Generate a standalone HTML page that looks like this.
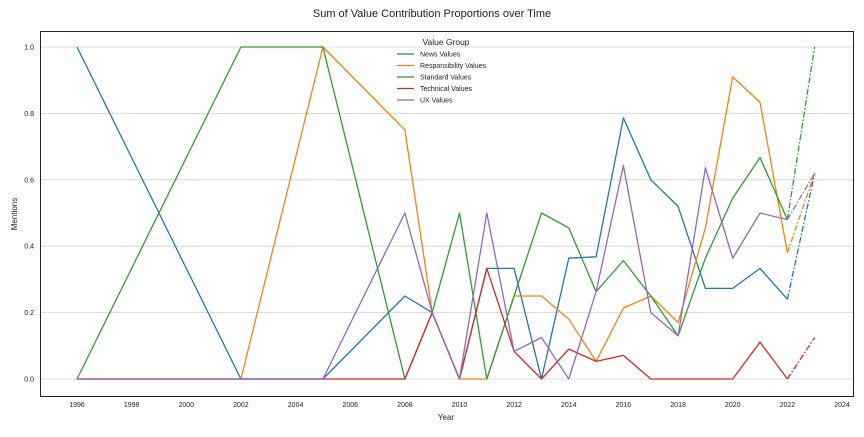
<!DOCTYPE html>
<html><head><meta charset="utf-8">
<style>
body{margin:0;background:#fff;font-family:"Liberation Sans",sans-serif;}
svg text{font-family:"Liberation Sans",sans-serif;}
</style></head>
<body>
<svg id="chart" width="864" height="432" xmlns="http://www.w3.org/2000/svg">
<text x="432" y="17" text-anchor="middle" font-size="11" fill="#222">Sum of Value Contribution Proportions over Time</text>
<g id="grid"></g>
<g id="series"></g>
<rect x="40.5" y="31.5" width="813" height="365" fill="none" stroke="#222" stroke-width="1"/>
<g id="axes"></g>
<text x="446" y="420" text-anchor="middle" font-size="8" fill="#222">Year</text>
<text x="17" y="214" text-anchor="middle" font-size="8" fill="#222" transform="rotate(-90 17 214)">Mentions</text>
<g id="legend">
<text x="446" y="45" text-anchor="middle" font-size="8.5" fill="#222">Value Group</text>
</g>
</svg>
<script>
const years=[1996,2002,2005,2008,2009,2010,2011,2012,2013,2014,2015,2016,2017,2018,2019,2020,2021,2022,2023];
const seriesNames=["News Values","Responsibility Values","Standard Values","Technical Values","UX Values"];
const colors=["#1f77b4","#ff7f0e","#2ca02c","#d62728","#9467bd"];
const newsVals=[1.0,0,0,0.25,0.2,0,0.333,0.333,0,0.364,0.368,0.786,0.6,0.52,0.273,0.273,0.333,0.24,0.62];
const respVals=[0,0,1.0,0.75,0.2,0,0,0.25,0.25,0.18,0.053,0.214,0.25,0.17,0.455,0.91,0.833,0.38,0.62];
const stdVals=[0,1,1,0,0.2,0.5,0,0.25,0.5,0.455,0.263,0.357,0.25,0.13,0.364,0.545,0.667,0.48,1.0];
const techVals=[0,0,0,0,0.2,0,0.333,0.083,0,0.09,0.053,0.071,0,0,0,0,0.111,0,0.125];
const uxVals=[0,0,0,0.5,0.2,0,0.5,0.083,0.125,0,0.263,0.643,0.2,0.13,0.636,0.364,0.5,0.48,0.62];
const xTicks=[1996,1998,2000,2002,2004,2006,2008,2010,2012,2014,2016,2018,2020,2022,2024];
const yTicks=[0,0.2,0.4,0.6,0.8,1.0];
const allVals=[newsVals,respVals,stdVals,techVals,uxVals];
const NS="http://www.w3.org/2000/svg";
const X=y=>77+(y-1996)*(842-77)/28;
const Y=v=>379-v*332;
function mk(tag,attrs,parent){const e=document.createElementNS(NS,tag);for(const k in attrs)e.setAttribute(k,attrs[k]);parent.appendChild(e);return e;}
const grid=document.getElementById('grid'),axes=document.getElementById('axes'),ser=document.getElementById('series'),leg=document.getElementById('legend');
yTicks.forEach(t=>{
 const l=mk('line',{x1:40,x2:853,y1:Y(t),y2:Y(t),stroke:'#d0d0d0','stroke-width':0.8},grid);
 
 
 const tx=mk('text',{x:34,y:Y(t)+2.5,'text-anchor':'end','font-size':7,fill:'#222'},axes);
 tx.textContent=t.toFixed(1);
 
 
});
xTicks.forEach(t=>{
 const tx=mk('text',{x:X(t),y:407,'text-anchor':'middle','font-size':7,fill:'#222'},axes);
 tx.textContent=t;
 
 
});
allVals.forEach((vals,i)=>{
 const n=years.length;
 let d='';
 for(let j=0;j<n-1;j++)d+=(j?'L':'M')+X(years[j]).toFixed(1)+','+Y(vals[j]).toFixed(1);
 const p=mk('path',{d:d,fill:'none',stroke:colors[i],'stroke-width':1.3,'stroke-linejoin':'round'},ser);
 
 
 const q=mk('path',{d:'M'+X(years[n-2])+','+Y(vals[n-2])+'L'+X(years[n-1])+','+Y(vals[n-1]),fill:'none',stroke:colors[i],'stroke-width':1.3,'stroke-dasharray':'6,2,1.5,2'},ser);
 
 
 const ly=54+i*11.5;
 const ll=mk('line',{x1:397,x2:414,y1:ly,y2:ly,stroke:colors[i],'stroke-width':1.3},leg);
 
 
 const lt=mk('text',{x:420,y:ly+2.5,'font-size':7,fill:'#222'},leg);
 lt.textContent=seriesNames[i];
 
 
});
</script>
</body></html>
